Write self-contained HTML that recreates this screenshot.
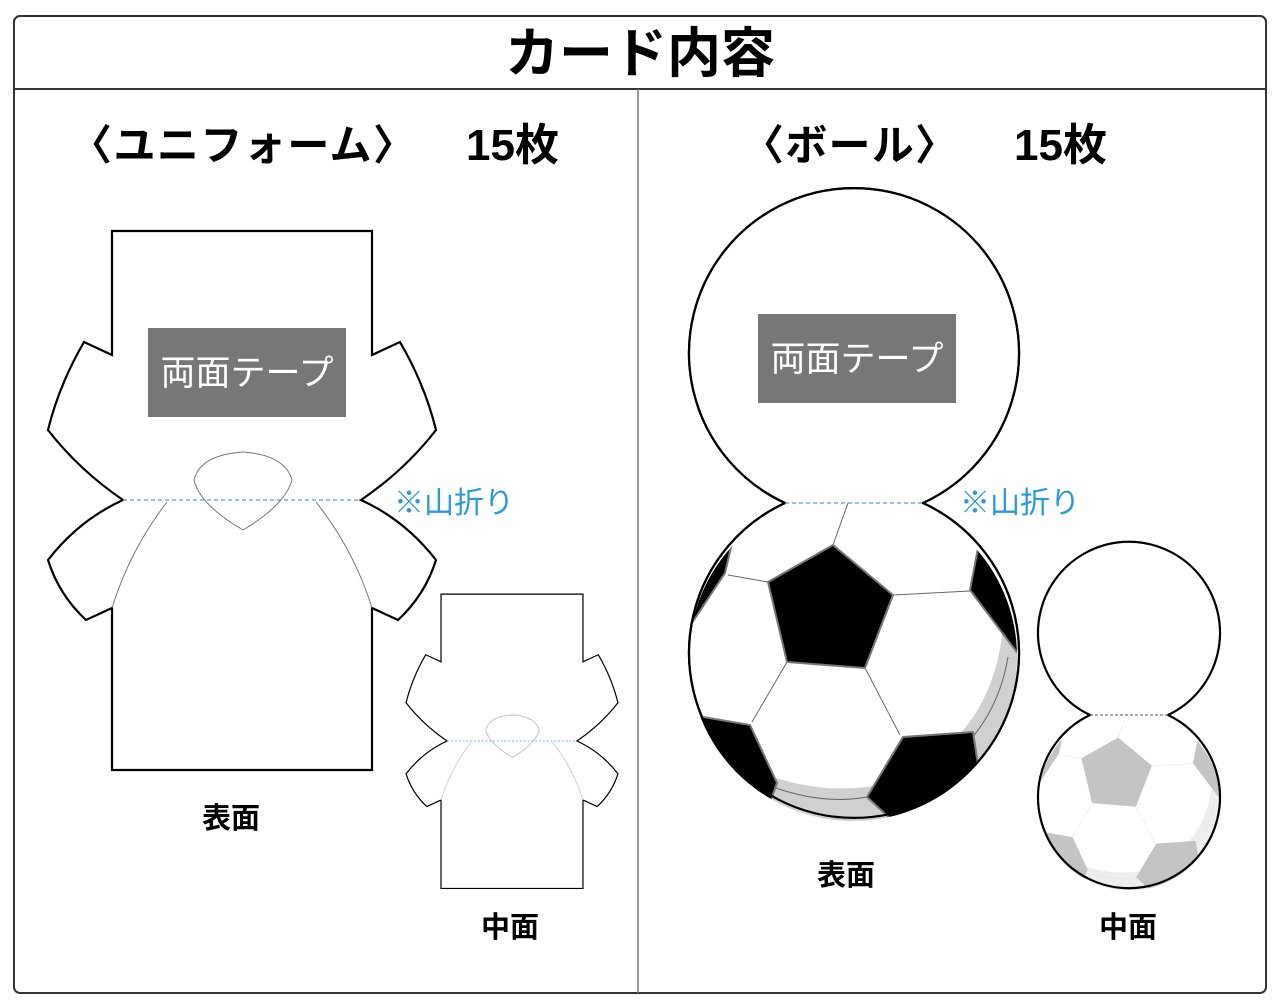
<!DOCTYPE html>
<html><head><meta charset="utf-8"><style>
html,body{margin:0;padding:0;background:#fff;width:1284px;height:1005px;overflow:hidden}
svg text{font-family:"Liberation Sans","Noto Sans CJK JP",sans-serif}
</style></head><body>
<svg width="1284" height="1005" viewBox="0 0 1284 1005" xmlns="http://www.w3.org/2000/svg">
<defs>
<clipPath id="bc"><circle cx="0" cy="0" r="164"/></clipPath>
<g id="shirt">
<path d="M112,231 L372,231 L372,355 L400,342 Q425,385 436,430 Q405,470 361,500 Q405,520 436,560 Q425,595 398,620 L372,608 L372,770 L112,770 L112,608 L86,620 Q59,595 48,560 Q79,520 123,500 Q79,470 48,430 Q59,385 84,342 L112,355 Z" fill="#fff" stroke="#000" stroke-width="2.2" stroke-linejoin="miter"/>
<line x1="123" y1="500" x2="361" y2="500" stroke="#5b9bd5" stroke-width="1.2" stroke-dasharray="4,3"/>
</g>
<g id="pat">
<g clip-path="url(#bc)">
<path d="M150,-30 Q140,80 40,125 Q-20,140 -80,120 L-80,220 L220,220 L220,-30 Z" fill="var(--gr)"/>
<g stroke="var(--ln)" stroke-width="1" fill="none">
<line x1="-20" y1="-112" x2="-5" y2="-154"/>
<line x1="-85" y1="-75" x2="-125" y2="-82"/>
<line x1="40" y1="-62" x2="117" y2="-66"/>
<line x1="-66" y1="5" x2="-101" y2="65"/>
<line x1="12" y1="11" x2="47" y2="78"/>
<path d="M155,0 Q140,90 50,132"/>
<path d="M14,140 Q-30,148 -80,130"/>
</g>
<g fill="var(--dk)" stroke="var(--ed)" stroke-width="2" stroke-linejoin="round">
<polygon points="-85,-75 -20,-112 40,-62 12,11 -66,5"/>
<polygon points="125,-109 117,-67 166,-2 200,-2 200,-140"/>
<polygon points="50,80 120,75 125,108 200,150 100,220 14,140"/>
<polygon points="-200,55 -150,60 -103,68 -76,126 -110,220 -200,220"/>
<polygon points="-121,-114 -128,-84 -165,-28 -200,-28 -200,-114"/>
</g>
</g>
</g>
</defs>

<rect x="14" y="16" width="1252" height="977" rx="6" fill="#fff" stroke="#333" stroke-width="2"/>
<line x1="14" y1="89" x2="1266" y2="89" stroke="#333" stroke-width="2"/>
<line x1="638" y1="89" x2="638" y2="993" stroke="#777" stroke-width="1.5"/>

<text x="640" y="72" font-size="54" font-weight="bold" text-anchor="middle">カード内容</text>
<text x="70" y="160" font-size="42" font-weight="bold" textLength="345">〈ユニフォーム〉</text>
<text x="466" y="160" font-size="44" font-weight="bold">15枚</text>
<text x="742" y="160" font-size="42" font-weight="bold" textLength="215">〈ボール〉</text>
<text x="1014" y="160" font-size="44" font-weight="bold">15枚</text>

<!-- big shirt -->
<use href="#shirt"/>
<path d="M194,480 Q200,455 243,452 Q285,455 292,480 Q285,505 243,530 Q200,505 194,480 Z" fill="none" stroke="#777" stroke-width="1"/>
<path d="M167,502 Q130,550 112,608" fill="none" stroke="#777" stroke-width="1"/>
<path d="M316,502 Q354,550 372,608" fill="none" stroke="#777" stroke-width="1"/>
<rect x="148" y="328" width="198" height="89" fill="#777"/>
<text x="247" y="385" font-size="35" fill="#fff" text-anchor="middle">両面テープ</text>
<text x="394" y="513" font-size="30" fill="#2a9ad8">※山折り</text>
<text x="231" y="828" font-size="29" font-weight="bold" text-anchor="middle">表面</text>

<!-- small shirt -->
<g transform="translate(512,741) scale(0.546) translate(-242,-500)">
<use href="#shirt"/>
<path d="M194,480 Q200,455 243,452 Q285,455 292,480 Q285,505 243,530 Q200,505 194,480 Z" fill="none" stroke="#bbb" stroke-width="1.6"/>
<path d="M167,502 Q130,550 112,608" fill="none" stroke="#ccc" stroke-width="1.6"/>
<path d="M316,502 Q354,550 372,608" fill="none" stroke="#ccc" stroke-width="1.6"/>
</g>
<text x="510" y="937" font-size="29" font-weight="bold" text-anchor="middle">中面</text>

<!-- big ball -->
<path d="M785,503 A165,165 0 1 1 923,503 A165,165 0 1 1 785,503 Z" fill="#fff" stroke="#000" stroke-width="2.2"/>
<g transform="translate(853,657)" style="--gr:#d0d0d0;--ln:#666;--dk:#000;--ed:#777"><use href="#pat"/></g>
<path d="M785,503 A165,165 0 1 1 923,503 A165,165 0 1 1 785,503 Z" fill="none" stroke="#000" stroke-width="2.2"/>
<line x1="785" y1="503" x2="923" y2="503" stroke="#5b9bd5" stroke-width="1.2" stroke-dasharray="4,3"/>
<rect x="758" y="314" width="198" height="89" fill="#777"/>
<text x="857" y="371" font-size="35" fill="#fff" text-anchor="middle">両面テープ</text>
<text x="960" y="513" font-size="30" fill="#2a9ad8">※山折り</text>
<text x="846" y="885" font-size="29" font-weight="bold" text-anchor="middle">表面</text>

<!-- small ball -->
<g transform="translate(1129,800) scale(0.552)" style="--gr:#eee;--ln:#e4e4e4;--dk:#c4c4c4;--ed:#c4c4c4"><use href="#pat"/></g>
<path d="M1090,715 A91,91 0 1 1 1168,715 A91,91 0 1 1 1090,715 Z" fill="none" stroke="#000" stroke-width="2.2"/>
<line x1="1090" y1="715" x2="1168" y2="715" stroke="#555" stroke-width="1" stroke-dasharray="3,2"/>
<text x="1128" y="937" font-size="29" font-weight="bold" text-anchor="middle">中面</text>
</svg>
</body></html>
